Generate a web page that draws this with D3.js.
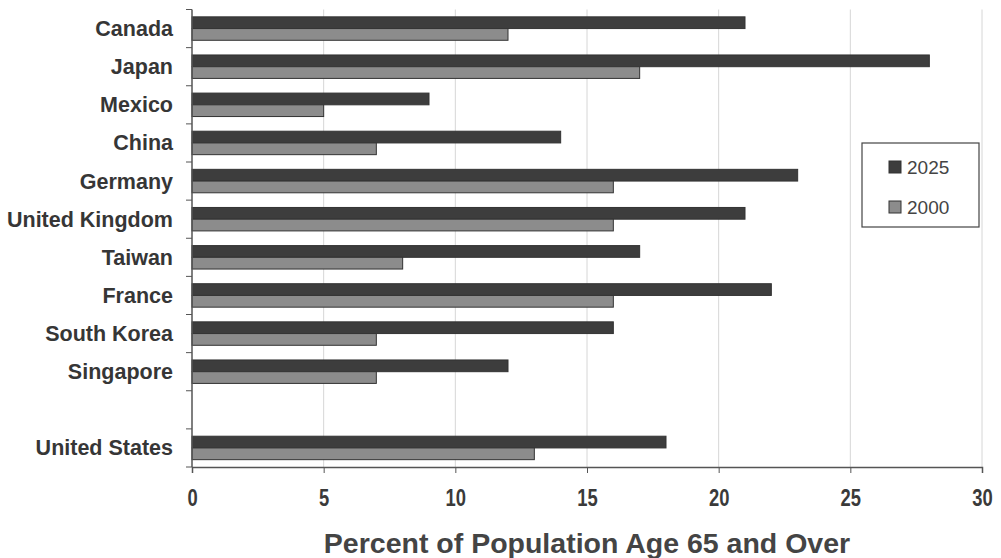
<!DOCTYPE html>
<html>
<head>
<meta charset="utf-8">
<script src="https://cdn.jsdelivr.net/npm/d3@7"></script>
<style>
  html, body { margin: 0; padding: 0; background: #fff; }
  svg { display: block; }
</style>
</head>
<body>
<svg id="chart" width="1001" height="558"></svg>
<script>
// Rows top to bottom; the empty row leaves a gap before the United States.
const countries = ["Canada", "Japan", "Mexico", "China", "Germany", "United Kingdom",
                   "Taiwan", "France", "South Korea", "Singapore", "", "United States"];
const pct2025 = [21, 28, 9, 14, 23, 21, 17, 22, 16, 12, null, 18];
const pct2000 = [12, 17, 5, 7, 16, 16, 8, 16, 7, 7, null, 13];
const seriesNames = ["2025", "2000"];
const xTicks = [0, 5, 10, 15, 20, 25, 30];

const W = 1001, H = 558;
const margin = { left: 192, right: 19, top: 9.5, bottom: 91 };
const FONT = "Liberation Sans, Arial, Helvetica, sans-serif";
const svg = d3.select("#chart");

const x = d3.scaleLinear().domain([0, 30]).range([margin.left, W - margin.right]);
const y = d3.scaleBand().domain(countries)
  .range([margin.top, H - margin.bottom])
  .paddingInner(0.385).paddingOuter(0.1925);
const ySub = d3.scaleBand().domain(seriesNames).range([0, y.bandwidth()]);
const fill = d3.scaleOrdinal().domain(seriesNames).range(["#3d3d3d", "#8c8c8c"]);

// vertical gridlines
svg.append("g").selectAll("line")
  .data(xTicks.slice(1))
  .join("line")
  .attr("x1", d => x(d)).attr("x2", d => x(d))
  .attr("y1", margin.top).attr("y2", H - margin.bottom)
  .attr("stroke", "#d6d6d6").attr("stroke-width", 1);

// bars
const rows = countries.map((c, i) => ({ c, v: { "2025": pct2025[i], "2000": pct2000[i] } }))
  .filter(r => r.c !== "");
const groups = svg.append("g").selectAll("g")
  .data(rows).join("g")
  .attr("transform", d => `translate(0,${y(d.c)})`);
groups.selectAll("rect")
  .data(d => seriesNames.map(s => ({ s, v: d.v[s] })))
  .join("rect")
  .attr("x", x(0))
  .attr("y", d => ySub(d.s))
  .attr("width", d => x(d.v) - x(0))
  .attr("height", ySub.bandwidth())
  .attr("fill", d => fill(d.s))
  .attr("stroke", "#333")
  .attr("stroke-width", 1);

// x axis
const xAxis = svg.append("g")
  .attr("transform", `translate(0,${H - margin.bottom})`)
  .call(d3.axisBottom(x).tickValues(xTicks).tickSize(6).tickPadding(17));
xAxis.select(".domain").attr("stroke", "#555").attr("stroke-width", 1.5);
xAxis.selectAll(".tick line").attr("stroke", "#555");
xAxis.selectAll("text")
  .attr("font-family", FONT)
  .attr("font-weight", "bold").attr("font-size", 23).attr("fill", "#3a3a3a")
  .attr("transform", "scale(0.8,1)");

// y axis: ticks sit on band boundaries, labels at band centres
const yAxisG = svg.append("g").attr("transform", `translate(${margin.left},0)`);
yAxisG.append("line")
  .attr("x1", 0).attr("x2", 0)
  .attr("y1", margin.top).attr("y2", H - margin.bottom)
  .attr("stroke", "#555").attr("stroke-width", 1.5);
const bounds = d3.range(countries.length + 1).map(i => margin.top + i * y.step());
yAxisG.selectAll("line.tk").data(bounds).join("line")
  .attr("class", "tk")
  .attr("x1", -6).attr("x2", 0)
  .attr("y1", d => d).attr("y2", d => d)
  .attr("stroke", "#555");
yAxisG.selectAll("text").data(countries.filter(c => c !== "")).join("text")
  .attr("x", -19)
  .attr("y", d => y(d) - y.step() * y.paddingInner() / 2 + y.step() / 2)
  .attr("dy", "0.35em")
  .attr("text-anchor", "end")
  .attr("font-family", FONT)
  .attr("font-weight", "bold").attr("font-size", 21.5).attr("fill", "#363636")
  .text(d => d);

// axis title
svg.append("text")
  .attr("x", 587)
  .attr("y", 553)
  .attr("text-anchor", "middle")
  .attr("font-family", FONT)
  .attr("font-weight", "bold").attr("font-size", 28.5).attr("fill", "#444")
  .text("Percent of Population Age 65 and Over");

// legend
const lg = svg.append("g").attr("transform", "translate(862,143)");
lg.append("rect").attr("width", 117).attr("height", 84)
  .attr("fill", "#fff").attr("stroke", "#444").attr("stroke-width", 1.2);
const li = lg.selectAll("g").data(seriesNames).join("g")
  .attr("transform", (d, i) => `translate(27,${24 + i * 40})`);
li.append("rect").attr("x", 0).attr("y", -6).attr("width", 12).attr("height", 12)
  .attr("fill", d => fill(d)).attr("stroke", "#333");
li.append("text").attr("x", 18).attr("dy", "0.35em")
  .attr("font-family", FONT)
  .attr("font-size", 19).attr("fill", "#444")
  .text(d => d);
</script>
</body>
</html>
